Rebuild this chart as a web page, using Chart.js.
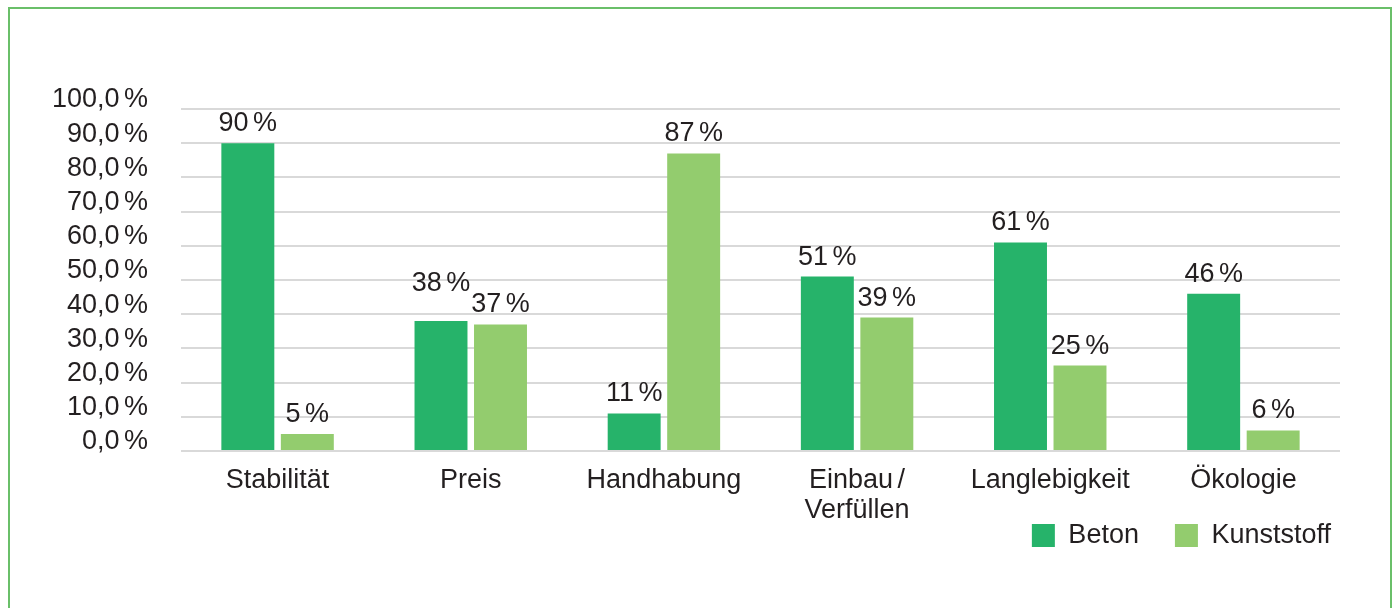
<!DOCTYPE html>
<html>
<head>
<meta charset="utf-8">
<script src="https://cdn.jsdelivr.net/npm/chart.js@4.4.1/dist/chart.umd.min.js"></script>
<style>
  html, body { margin: 0; padding: 0; background: #fff; overflow: hidden; }
  #wrap { position: relative; width: 1394px; height: 608px; }
  #frame { position: absolute; left: 8px; top: 7px; width: 1384px; height: 700px; box-sizing: border-box; border: 2px solid #6abf69; pointer-events: none; }
  canvas { position: absolute; left: 0; top: 0; }
</style>
</head>
<body>
<div id="wrap">
  <canvas id="c" width="1394" height="608"></canvas>
  <div id="frame"></div>
</div>
<script>
const categories = ['Stabilität', 'Preis', 'Handhabung', ['Einbau\u2006/', 'Verfüllen'], 'Langlebigkeit', 'Ökologie'];
const seriesNames = ['Beton', 'Kunststoff'];
const betonValues = [90, 38, 11, 51, 61, 46];
const kunststoffValues = [5, 37, 87, 39, 25, 6];
const yTicks = [0, 10, 20, 30, 40, 50, 60, 70, 80, 90, 100];

const FONT = "'Liberation Sans', Arial, Helvetica, sans-serif";
const TEXT = '#231f20';
const SP = '\u2006';

const valueLabels = {
  id: 'valueLabels',
  afterDatasetsDraw(chart, args, opts) {
    const ctx = chart.ctx;
    ctx.save();
    ctx.font = '27px ' + FONT;
    ctx.fillStyle = TEXT;
    ctx.textAlign = 'center';
    ctx.textBaseline = 'alphabetic';
    chart.data.datasets.forEach((ds, di) => {
      const meta = chart.getDatasetMeta(di);
      meta.data.forEach((el, i) => {
        const lift = (opts.extraLift && opts.extraLift[di + '-' + i]) || 0;
        ctx.fillText(ds.data[i] + SP + '%', el.x, el.y - 12 - lift);
      });
    });
    ctx.restore();
  }
};

// let the category labels overflow below the (compact) x-axis box without being clipped
const unclipLabels = {
  id: 'unclipLabels',
  afterLayout(chart) {
    chart.scales.x.bottom = chart.height;
  }
};

new Chart(document.getElementById('c'), {
  type: 'bar',
  data: {
    labels: categories,
    datasets: [
      { label: seriesNames[0], data: betonValues, backgroundColor: '#26b36a', borderWidth: 0,
        categoryPercentage: 0.616, barPercentage: 0.89 },
      { label: seriesNames[1], data: kunststoffValues, backgroundColor: '#93cc6e', borderWidth: 0,
        categoryPercentage: 0.616, barPercentage: 0.89 }
    ]
  },
  options: {
    responsive: false,
    animation: false,
    layout: { padding: { left: 21, right: 27, top: 109, bottom: 49 } },
    plugins: {
      legend: {
        position: 'bottom',
        align: 'end',
        labels: {
          boxWidth: 23, boxHeight: 23, padding: 36,
          color: TEXT, font: { family: FONT, size: 27 }
        }
      },
      tooltip: { enabled: false },
      valueLabels: { extraLift: { '0-1': 18 } }
    },
    scales: {
      x: {
        grid: { display: false, drawTicks: false },
        border: { display: false },
        ticks: { color: TEXT, padding: 15, font: { family: FONT, size: 27, lineHeight: 1.1 }, maxRotation: 0, autoSkip: false },
        afterFit(s) { s.height = 35; }
      },
      y: {
        min: 0, max: 100,
        afterBuildTicks(s) { s.ticks = yTicks.map(v => ({ value: v })); },
        grid: { color: '#d9d9d9', lineWidth: 2, drawTicks: false },
        border: { display: false },
        ticks: {
          color: TEXT, padding: 33, labelOffset: -9, autoSkip: false,
          font: { family: FONT, size: 27 },
          callback: v => v.toFixed(1).replace('.', ',') + SP + '%'
        },
        afterFit(s) { s.width = 160; }
      },
      y2: {
        position: 'right',
        display: true,
        grid: { display: false, drawTicks: false },
        border: { display: false },
        ticks: { display: false },
        afterFit(s) { s.width = 27; }
      }
    }
  },
  plugins: [valueLabels, unclipLabels]
});
</script>
</body>
</html>
